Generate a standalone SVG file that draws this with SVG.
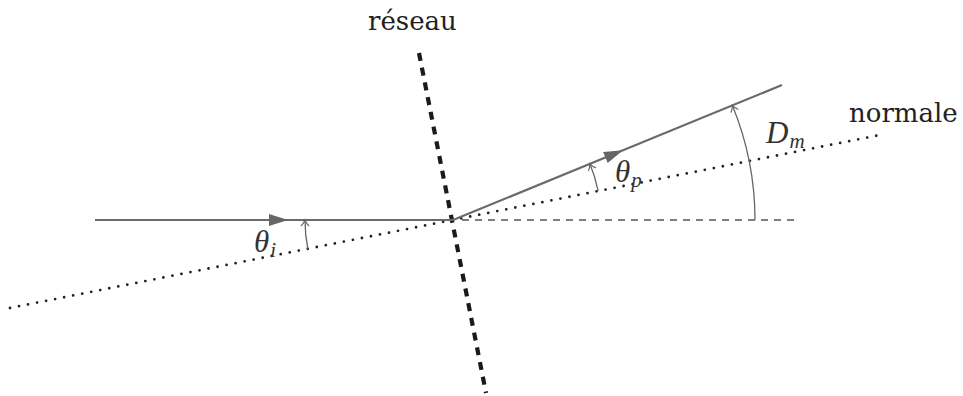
<svg xmlns="http://www.w3.org/2000/svg" width="963" height="396" viewBox="0 0 963 396">
<style>
.ray{fill:none;stroke:#6a6a6a;stroke-width:2.2;}
.arc{fill:none;stroke:#666;stroke-width:1.3;}
.normal{fill:none;stroke:#222;stroke-width:2.8;stroke-linecap:round;stroke-dasharray:0 9.2;}
.grating{fill:none;stroke:#1a1a1a;stroke-width:4.2;stroke-dasharray:8 7;}
.hdash{fill:none;stroke:#555;stroke-width:1.3;stroke-dasharray:7 6;}
.lbl{font-family:"DejaVu Serif","Liberation Serif",serif;font-size:26px;fill:#222;}
.math{font-family:"Liberation Serif","DejaVu Serif",serif;font-style:italic;fill:#333;font-size:31px;}
.sub{font-size:21px;}
</style>
<defs>
<marker id="solid" markerUnits="userSpaceOnUse" markerWidth="22" markerHeight="14" viewBox="-19 -7 21 14" refX="0" refY="0" orient="auto">
<path d="M-19,-6 L0,0 L-19,6 Z" fill="#666"/>
</marker>
<marker id="open" markerUnits="userSpaceOnUse" markerWidth="12" markerHeight="12" viewBox="-8 -6 10 12" refX="0" refY="0" orient="auto">
<path d="M-6,-4 Q-3,-1 0,0 Q-3,1 -6,4" fill="none" stroke="#666" stroke-width="1.2"/>
</marker>
</defs>
<rect width="963" height="396" fill="#fff"/>
<g id="lines">
<path id="normale-line" class="normal" d="M10,308 L885,134"/>
<path id="reseau-line" class="grating" d="M419,53 L486,393"/>
<path id="horizontal" class="hdash" d="M462,220 L800,220"/>
</g>
<g id="connectors">
<path id="incident" class="ray" d="M95,220 L288,220 L453,220" marker-mid="url(#solid)"/>
<path id="diffracte" class="ray" d="M453,220 L623,150.3 L782,85" marker-mid="url(#solid)"/>
<path id="arc-thetai" class="arc" d="M307.8,248.8 A148,148 0 0 1 305,220" marker-end="url(#open)"/>
<path id="arc-thetap" class="arc" d="M598.2,191.2 A148,148 0 0 0 589.9,163.8" marker-end="url(#open)"/>
<path id="arc-Dm" class="arc" d="M755,220 A302,302 0 0 0 732.4,105.4" marker-end="url(#open)"/>
</g>
<g id="labels">
<text class="lbl" x="368" y="30">réseau</text>
<text class="lbl" x="849" y="122">normale</text>
<text class="math" x="254" y="252">θ<tspan class="sub" dx="1" dy="5">i</tspan></text>
<text class="math" x="615" y="182">θ<tspan class="sub" dx="1" dy="5">p</tspan></text>
<text class="math" x="766" y="143">D<tspan class="sub" dx="1" dy="5">m</tspan></text>
</g>
</svg>
